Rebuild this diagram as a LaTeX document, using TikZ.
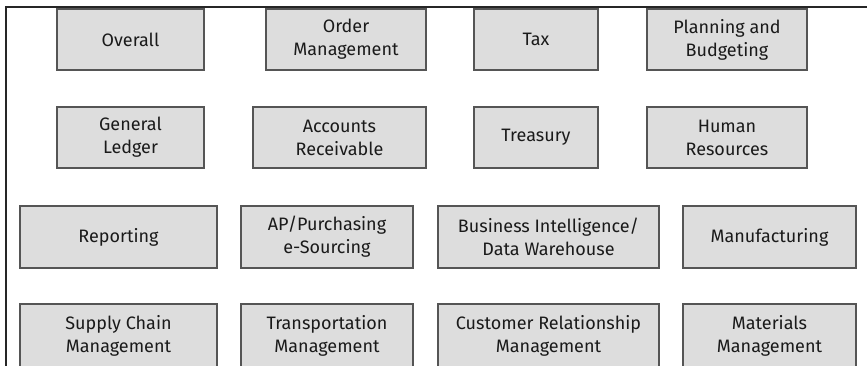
\documentclass[tikz,border=0pt]{standalone}
\usepackage{fontspec}
\setmainfont{Fira Sans}
\definecolor{boxfill}{HTML}{DDDDDD}
\definecolor{boxline}{HTML}{555555}
\definecolor{txt}{HTML}{1A1A1A}
\tikzset{
  mod/.style={draw=boxline, line width=1.4pt, fill=boxfill, align=center,
    text=txt, font=\fontsize{18}{23}\selectfont, inner sep=0pt},
}
\newcommand{\modbox}[6]{% name, x1, y1, x2, y2, text
  \node[mod, minimum width={(#4-#2)*1pt}, minimum height={(#5-#3)*1pt}]
    (#1) at ({(#2+#4)/2*1pt},{-(#3+#5)/2*1pt}) {#6};}
\begin{document}
\begin{tikzpicture}[x=1pt,y=-1pt]
\useasboundingbox (0,0) rectangle (867,366);
\fill[white] (0,0) rectangle (867,366);
\coordinate (tl) at (6,7);
\coordinate (tr) at (867,7);
\coordinate (bl) at (6,366);
\draw[line width=2pt, black!85] (tr) -- (tl) -- (bl);
% row 1
\modbox{overall}{57}{9}{204}{70}{Overall}
\modbox{order}{266}{9}{426}{70}{Order\\Management}
\modbox{tax}{474}{9}{598}{70}{Tax}
\modbox{plan}{647}{9}{807}{70}{Planning and\\Budgeting}
% row 2
\modbox{gl}{57}{107}{204}{168}{General\\Ledger}
\modbox{ar}{253}{107}{426}{168}{Accounts\\Receivable}
\modbox{treas}{474}{107}{598}{168}{Treasury}
\modbox{hr}{647}{107}{807}{168}{Human\\Resources}
% row 3
\modbox{rep}{20}{206}{217}{268}{Reporting}
\modbox{ap}{241}{206}{413}{268}{AP/Purchasing\\e-Sourcing}
\modbox{bi}{438}{206}{659}{268}{Business Intelligence/\\Data Warehouse}
\modbox{man}{683}{206}{856}{268}{Manufacturing}
% row 4
\modbox{scm}{20}{304}{217}{368}{Supply Chain\\Management}
\modbox{tm}{241}{304}{413}{368}{Transportation\\Management}
\modbox{crm}{438}{304}{659}{368}{Customer Relationship\\Management}
\modbox{mm}{683}{304}{856}{368}{Materials\\Management}
\end{tikzpicture}
\end{document}
